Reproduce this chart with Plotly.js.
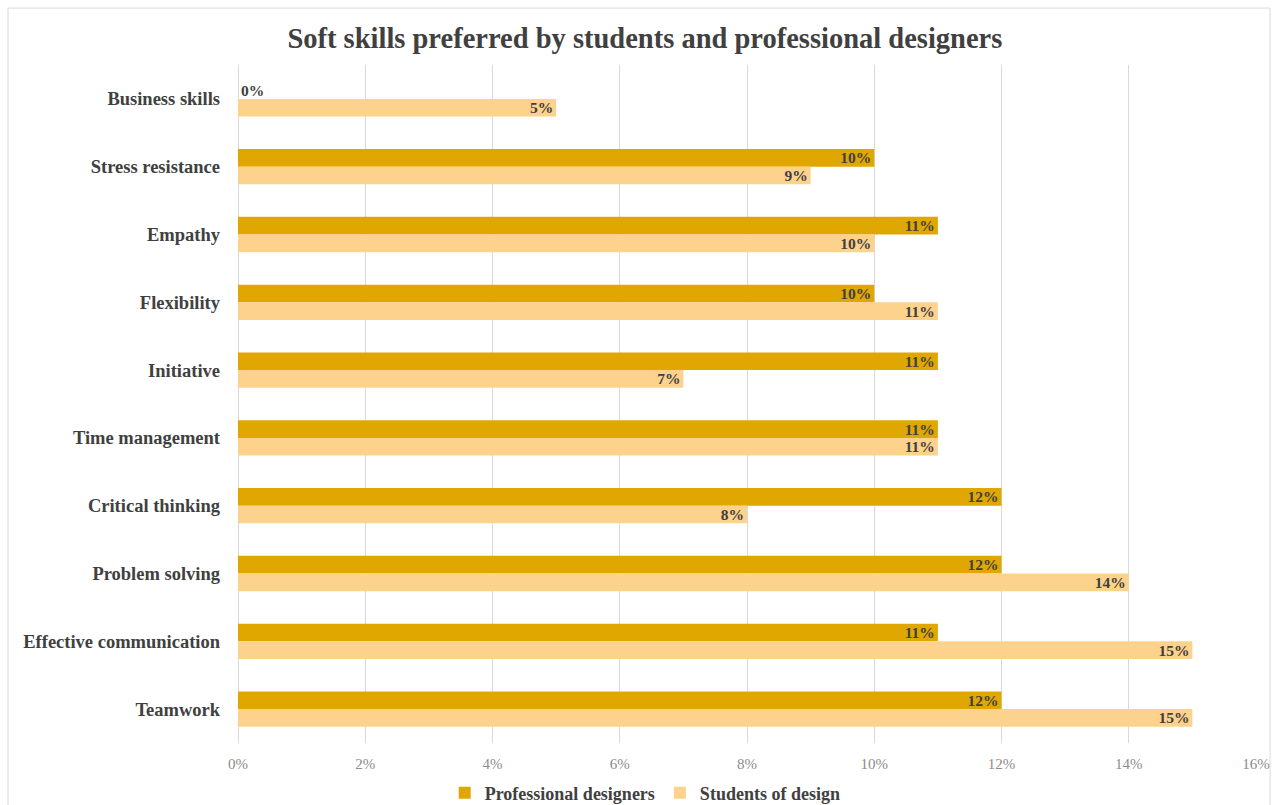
<!DOCTYPE html>
<html>
<head>
<meta charset="utf-8">
<script src="https://cdn.plot.ly/plotly-3.0.1.min.js"></script>
<style>html,body{margin:0;padding:0;background:#fff;}#chart{width:1277px;height:805px;}</style>
</head>
<body>
<div id="chart"></div>
<script>
const categories = ["Business skills","Stress resistance","Empathy","Flexibility","Initiative","Time management","Critical thinking","Problem solving","Effective communication","Teamwork"];
const professional = [0,10,11,10,11,11,12,12,11,12];
const students = [5,9,10,11,7,11,8,14,15,15];
const tickVals = [0,2,4,6,8,10,12,14,16];
const tickText = ["0%","2%","4%","6%","8%","10%","12%","14%","16%"];

const fontFam = '"Liberation Serif", "Times New Roman", serif';
const labelFont = {family: fontFam, size: 15.5, color: '#404040', weight: 'bold'};

function mk(name, vals, color) {
  return {
    type: 'bar', orientation: 'h', name: name,
    y: categories, x: vals,
    marker: {color: color},
    text: vals.map(v => '<b>' + v + '%</b>'),
    textposition: vals.map(v => v === 0 ? 'outside' : 'inside'),
    insidetextanchor: 'end',
    textfont: labelFont, insidetextfont: labelFont, outsidetextfont: labelFont,
    constraintext: 'none', cliponaxis: false,
    hoverinfo: 'x+y'
  };
}

const data = [
  mk('Professional designers', professional, '#E0A700'),
  mk('Students of design', students, '#FDD28C')
];

const layout = {
  width: 1277, height: 805,
  margin: {l: 238, r: 21, t: 65, b: 62, autoexpand: false},
  paper_bgcolor: '#fff', plot_bgcolor: '#fff',
  barmode: 'group', bargap: 0.48, bargroupgap: 0,
  title: {text: '<b>Soft skills preferred by students and professional designers</b>',
          x: 0.505, xanchor: 'center', y: 0.953, yanchor: 'middle',
          font: {family: fontFam, size: 28.5, color: '#404040'}},
  xaxis: {range: [0, 16], tickvals: tickVals, ticktext: tickText, automargin: false,
          showgrid: true, gridcolor: '#D9D9D9', gridwidth: 1, zeroline: true, zerolinecolor: '#D9D9D9',
          showline: false, ticks: '', ticklabelstandoff: 10,
          tickfont: {family: fontFam, size: 15, color: '#8C8C8C'}, fixedrange: true},
  yaxis: {autorange: 'reversed', ticks: '', showline: false, showgrid: false, ticklabelstandoff: 17,
          automargin: false,
          tickfont: {family: fontFam, size: 18.5, color: '#404040', weight: 'bold'}, fixedrange: true},
  showlegend: true,
  legend: {orientation: 'h', x: 0.4, xanchor: 'center', y: -0.074, yanchor: 'middle',
           bgcolor: 'rgba(0,0,0,0)',
           font: {family: fontFam, size: 18, color: '#404040', weight: 'bold'},
           itemwidth: 30, traceorder: 'normal'},
  shapes: [{type: 'rect', xref: 'paper', yref: 'paper',
            x0: -0.2259, x1: 1.0138, y0: -0.1, y1: 1.084,
            line: {color: '#D9D9D9', width: 1}, fillcolor: 'rgba(0,0,0,0)', layer: 'below'}]
};

Plotly.newPlot('chart', data, layout, {displayModeBar: false, staticPlot: true});
</script>
</body>
</html>
